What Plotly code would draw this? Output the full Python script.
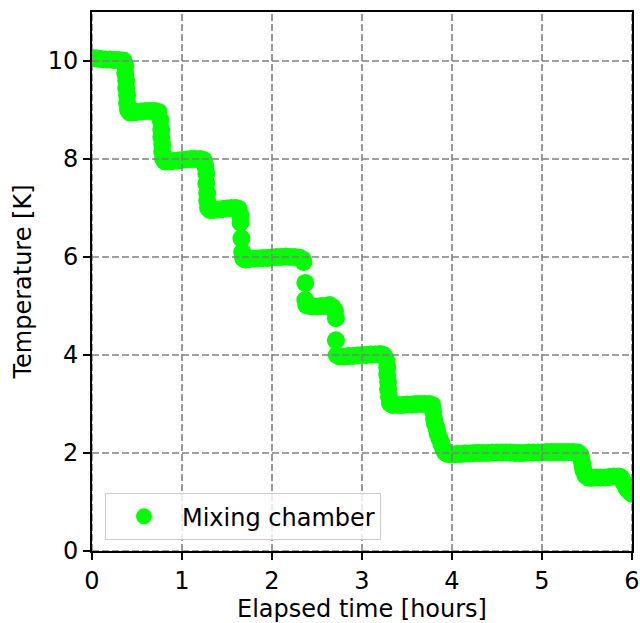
import plotly.graph_objects as go

# Elapsed time [hours] and mixing-chamber temperature [K]
time_h = [
    0.00, 0.05, 0.10, 0.15, 0.20, 0.25, 0.30, 0.35,
    0.37, 0.37, 0.38, 0.38, 0.39, 0.39, 0.40, 0.42,
    0.45, 0.50, 0.55, 0.60, 0.65, 0.70, 0.74,
    0.76, 0.77, 0.77, 0.78, 0.78, 0.79, 0.81,
    0.85, 0.90, 0.95, 1.00, 1.05, 1.10, 1.15, 1.20, 1.24,
    1.26, 1.27, 1.27, 1.28, 1.28, 1.29, 1.31,
    1.35, 1.40, 1.45, 1.50, 1.55, 1.60, 1.63,
    1.65, 1.65, 1.66, 1.67, 1.68,
    1.70, 1.75, 1.80, 1.85, 1.90, 1.95, 2.00, 2.05, 2.10, 2.15, 2.20, 2.25, 2.30, 2.34,
    2.35, 2.37, 2.37, 2.38,
    2.42, 2.46, 2.50, 2.55, 2.60, 2.64, 2.67,
    2.70, 2.71, 2.71, 2.72,
    2.75, 2.80, 2.85, 2.90, 2.95, 3.00, 3.05, 3.10, 3.15, 3.20, 3.24,
    3.27, 3.28, 3.28, 3.29, 3.29, 3.30, 3.31,
    3.34, 3.40, 3.45, 3.50, 3.55, 3.60, 3.65, 3.70, 3.75, 3.78,
    3.79, 3.80, 3.81, 3.83, 3.84, 3.86, 3.88, 3.90, 3.92, 3.95,
    4.00, 4.05, 4.10, 4.15, 4.20, 4.25, 4.30, 4.35, 4.40, 4.45, 4.50, 4.55, 4.60, 4.65,
    4.70, 4.75, 4.80, 4.85, 4.90, 4.95, 5.00, 5.05, 5.10, 5.15, 5.20, 5.25, 5.30, 5.35, 5.40,
    5.43, 5.44, 5.45, 5.46, 5.48, 5.51,
    5.55, 5.60, 5.65, 5.70, 5.75, 5.80, 5.85, 5.88,
    5.90, 5.92, 5.94, 5.96, 5.98, 6.00,
]
temp_k = [
    10.06, 10.05, 10.04, 10.03, 10.03, 10.02, 10.02, 10.01,
    9.90, 9.75, 9.60, 9.45, 9.30, 9.15, 9.00, 8.95,
    8.95, 8.96, 8.97, 8.98, 8.98, 8.98, 8.96,
    8.80, 8.60, 8.45, 8.30, 8.15, 8.00, 7.95,
    7.95, 7.96, 7.97, 7.98, 7.99, 8.00, 8.00, 8.00, 7.98,
    7.85, 7.70, 7.50, 7.30, 7.15, 7.00, 6.96,
    6.96, 6.97, 6.98, 6.99, 7.00, 7.00, 6.98,
    6.85, 6.70, 6.38, 6.10, 5.97,
    5.95, 5.96, 5.97, 5.97, 5.98, 5.98, 5.99, 6.00, 6.00, 6.01, 6.00, 6.00, 5.99, 5.95,
    5.90, 5.47, 5.12, 5.02,
    5.00, 4.99, 4.99, 5.00, 5.00, 5.02, 4.98,
    4.90, 4.75, 4.30, 4.00,
    3.97, 3.97, 3.98, 3.98, 3.99, 4.00, 4.00, 4.01, 4.01, 4.02, 4.00,
    3.90, 3.75, 3.60, 3.45, 3.30, 3.15, 3.02,
    2.98, 2.98, 2.98, 2.99, 2.99, 3.00, 3.00, 3.00, 3.00, 2.98,
    2.85, 2.70, 2.60, 2.50, 2.40, 2.30, 2.20, 2.10, 2.02, 1.98,
    1.97, 1.98, 1.98, 1.99, 1.99, 2.00, 2.00, 2.00, 2.00, 2.01, 2.01, 2.01, 2.01, 2.01,
    2.00, 2.00, 2.00, 2.01, 2.01, 2.01, 2.01, 2.02, 2.02, 2.02, 2.02, 2.02, 2.02, 2.02, 2.01,
    1.95, 1.85, 1.75, 1.65, 1.55, 1.50,
    1.49, 1.50, 1.50, 1.50, 1.51, 1.52, 1.52, 1.50,
    1.42, 1.35, 1.28, 1.24, 1.20, 1.17,
]

x_ticks = [0, 1, 2, 3, 4, 5, 6]
y_ticks = [0, 2, 4, 6, 8, 10]
series_name = "Mixing chamber"

FONT = "DejaVu Sans"
GRID = "#808080"

fig = go.Figure()
fig.add_trace(go.Scatter(
    x=time_h, y=temp_k, mode="markers", name=series_name,
    marker=dict(color="#00ff00", size=18, line=dict(width=0)),
))

# grid lines drawn above the data, as in the reference
for xv in x_ticks:
    fig.add_shape(type="line", xref="x", yref="paper", x0=xv, x1=xv, y0=0, y1=1,
                  line=dict(color=GRID, width=1.6, dash="7px,3px"), layer="above")
for yv in y_ticks:
    fig.add_shape(type="line", xref="paper", yref="y", x0=0, x1=1, y0=yv, y1=yv,
                  line=dict(color=GRID, width=1.6, dash="7px,3px"), layer="above")

axis_common = dict(
    showgrid=False, zeroline=False, showline=True, mirror=True, automargin=False,
    linecolor="black", linewidth=1.6, ticks="outside", ticklen=7, tickwidth=1.6,
    tickcolor="black", tickfont=dict(family=FONT, size=24, color="black"),
)
fig.update_xaxes(range=[0, 6], tickvals=x_ticks,
                 title=dict(text="Elapsed time [hours]", font=dict(family=FONT, size=24, color="black"), standoff=13),
                 **axis_common)
fig.update_yaxes(range=[0, 11], tickvals=y_ticks,
                 title=dict(text="Temperature [K]", font=dict(family=FONT, size=24, color="black"), standoff=9),
                 **axis_common)

fig.update_layout(
    width=640, height=623,
    margin=dict(l=92, r=8, t=12, b=72),
    paper_bgcolor="white", plot_bgcolor="white",
    font=dict(family=FONT, size=24, color="black"),
    showlegend=True,
    legend=dict(x=0.024, y=0.02, xanchor="left", yanchor="bottom",
                bgcolor="rgba(255,255,255,0.8)", bordercolor="#cccccc", borderwidth=1,
                itemwidth=66, tracegroupgap=0,
                font=dict(family=FONT, size=24, color="black")),
)

fig.write_html("out.html", config={"displayModeBar": False},
               post_script="document.body.style.margin='0';")
